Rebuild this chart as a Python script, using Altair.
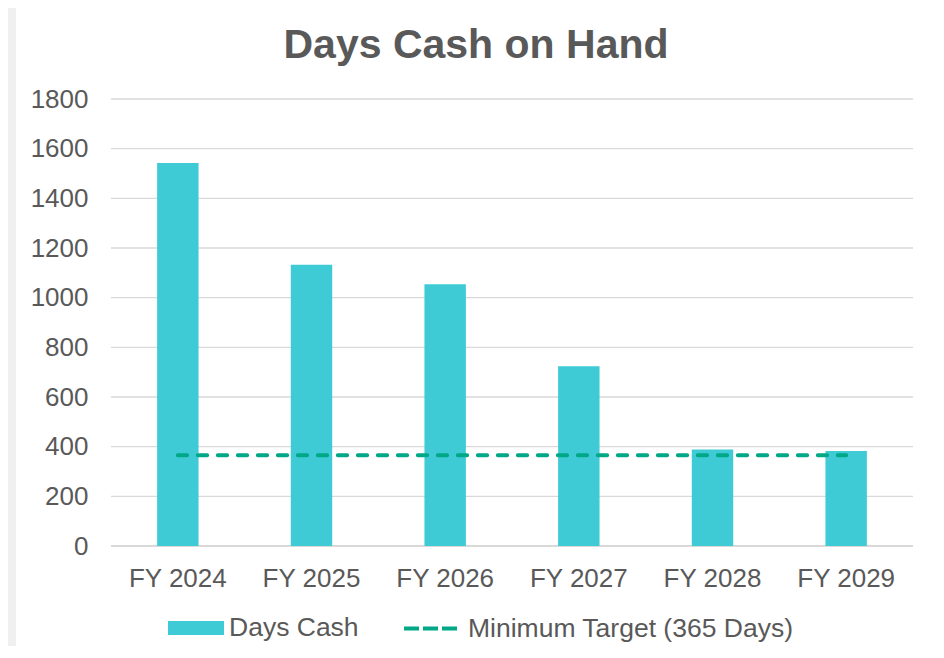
import altair as alt
import pandas as pd

# ---- data ----
categories = ["FY 2024", "FY 2025", "FY 2026", "FY 2027", "FY 2028", "FY 2029"]
days_cash = [1542, 1133, 1054, 724, 389, 383]
min_target = [365, 365, 365, 365, 365, 365]
y_ticks = [0, 200, 400, 600, 800, 1000, 1200, 1400, 1600, 1800]
bar_series = "Days Cash"
line_series = "Minimum Target (365 Days)"
chart_title = "Days Cash on Hand"

FONT = "Liberation Sans"
TEXT = "#595959"
BAR = "#3ECBD6"
LINE = "#00A887"
GRID = "#D9D9D9"

df = pd.DataFrame({
    "year": categories,
    "days": days_cash,
    "target": min_target,
    "bar_series": [bar_series] * len(categories),
    "line_series": [line_series] * len(categories),
})
grid_df = pd.DataFrame({"tick": y_ticks[1:]})
zero_df = pd.DataFrame({"tick": y_ticks[:1]})

yscale = alt.Scale(domain=[y_ticks[0], y_ticks[-1]], nice=False, zero=True)
xaxis = alt.Axis(title=None, labelAngle=0, labelFontSize=26, labelColor=TEXT,
                 labelFont=FONT, labelPadding=19, ticks=False, tickSize=0,
                 domain=False, grid=False, zindex=1)
xenc = alt.X("year:N", sort=categories,
             scale=alt.Scale(paddingInner=0.69, paddingOuter=0.345), axis=xaxis)
yaxis = alt.Axis(title=None, values=y_ticks, format="d", labelFontSize=26,
                 labelColor=TEXT, labelFont=FONT, labelPadding=23, ticks=False,
                 tickSize=0, domain=False, grid=False, zindex=1)

panel = alt.Chart(alt.Data(values=[{"panel": 1}])).mark_rect(color="white").encode(
    x=alt.value(-95), x2=alt.value(825), y=alt.value(-92), y2=alt.value(559)
)

grid = alt.Chart(grid_df).mark_rule(color=GRID, strokeWidth=1.3).encode(
    y=alt.Y("tick:Q", scale=yscale, axis=yaxis)
)
zero = alt.Chart(zero_df).mark_rule(color=GRID, strokeWidth=2).encode(
    y=alt.Y("tick:Q", scale=yscale, axis=yaxis)
)

bars = alt.Chart(df).mark_bar().encode(
    x=xenc,
    y=alt.Y("days:Q", scale=yscale, axis=yaxis),
    fill=alt.Fill(
        "bar_series:N",
        scale=alt.Scale(domain=[bar_series], range=[BAR]),
        legend=alt.Legend(
            title=None, orient="none", legendX=57, legendY=501,
            symbolType="M-1,-0.25H1V0.25H-1Z", symbolSize=3136,
            symbolStrokeWidth=0, labelOffset=5,
        ),
    ),
)

line = alt.Chart(df).mark_line(strokeWidth=4, strokeDash=[9.3, 10.7], strokeCap="round").encode(
    x=xenc,
    y=alt.Y("target:Q", scale=yscale, axis=yaxis),
    stroke=alt.Stroke(
        "line_series:N",
        scale=alt.Scale(domain=[line_series], range=[LINE]),
        legend=alt.Legend(
            title=None, orient="none", legendX=291, legendY=501,
            symbolType="stroke", symbolSize=2809, symbolStrokeWidth=4,
            symbolDash=[15, 4], labelOffset=9,
        ),
    ),
)

chart = alt.layer(panel, grid, zero, bars, line).properties(
    width=802,
    height=447,
    padding={"left": 103, "top": 91, "right": 23, "bottom": 100},
    autosize=alt.AutoSizeParams(type="none"),
    background="#F0F0F0",
    title=alt.TitleParams(
        chart_title, fontSize=41, fontWeight="bold", color=TEXT, font=FONT,
        anchor="middle", baseline="alphabetic", offset=-92, dx=-36,
    ),
).configure_view(stroke=None).configure_legend(
    labelFont=FONT, labelFontSize=26.5, labelColor=TEXT, padding=0, labelLimit=500
)

chart.save("out.html", embed_options={"renderer": "svg", "actions": False})
